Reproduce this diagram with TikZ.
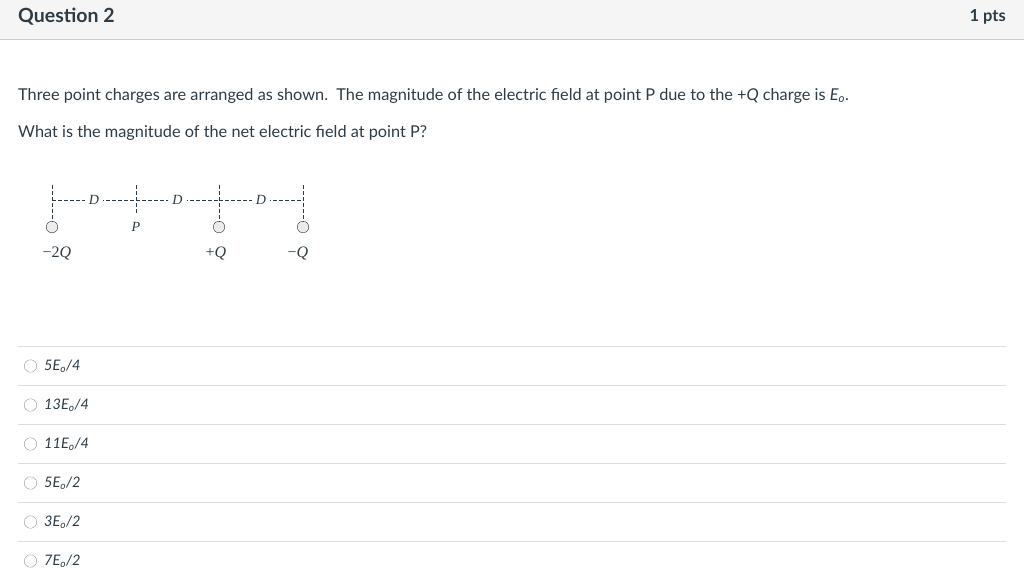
\documentclass[tikz,border=0pt]{standalone}
\usepackage{fontspec}
\setmainfont{Lato}
\newfontfamily\lblfont{Liberation Serif}
\definecolor{ink}{HTML}{2D3B45}
\definecolor{headbg}{HTML}{F5F5F5}
\definecolor{rulegray}{HTML}{C7CDD1}
\definecolor{sepgray}{HTML}{DDDDDD}
\tikzset{
  guide/.style={draw=ink, thin, dash pattern=on 3.5pt off 2.5pt},
  charge/.style={circle, draw=ink, fill=gray!15, minimum size=11.5pt, inner sep=0pt},
  lbl/.style={font=\lblfont\fontsize{16}{18}\selectfont, text=ink, inner sep=1pt},
  dlbl/.style={font=\lblfont\fontsize{14}{16}\selectfont\itshape, text=ink, fill=white, inner xsep=4pt, inner ysep=1pt},
  radio/.style={circle, draw=gray!80, minimum size=12.5pt, inner sep=0pt},
  answer/.style={anchor=west, font=\fontsize{14.5}{16}\selectfont\itshape, text=ink, inner sep=0pt}
}
\begin{document}
\begin{tikzpicture}[x=1pt,y=-1pt]
\useasboundingbox (0,0) rectangle (1024,584);

% header
\fill[headbg] (0,0) rectangle (1024,39);
\draw[rulegray] (0,39.5) -- (1024,39.5);
\node[anchor=west, text=ink, inner sep=0pt] (title) at (18,17) {\fontsize{19.5}{21}\selectfont\bfseries Question 2};
\node[anchor=east, text=ink, inner sep=0pt] (pts) at (1006,17) {\fontsize{16.5}{18}\selectfont\bfseries 1 pts};

% question text
\node[anchor=base west, text=ink, inner sep=0pt] (q1) at (18,100) {\fontsize{16.3}{18}\selectfont Three point charges are arranged as shown.\ \ The magnitude of the electric field at point P due to the +\textit{Q} charge is \textit{E}\textsubscript{\textit{o}}.};
\node[anchor=base west, text=ink, inner sep=0pt] (q2) at (18,137) {\fontsize{16.3}{18}\selectfont What is the magnitude of the net electric field at point P?};

% diagram
\coordinate (top1) at (52,185);
\coordinate (top2) at (136,185);
\coordinate (top3) at (219,185);
\coordinate (top4) at (303,185);
\coordinate (h1) at (52,200);
\coordinate (h2) at (136,200);
\coordinate (h3) at (219,200);
\coordinate (h4) at (303,200);
\coordinate (bot2) at (136,215);

\node[charge] (c1) at (52,227) {};
\node[charge] (c3) at (219,227) {};
\node[charge] (c4) at (303,227) {};

\draw[guide] (top1) -- (c1.north);
\draw[guide] (top2) -- (bot2);
\draw[guide] (top3) -- (c3.north);
\draw[guide] (top4) -- (c4.north);

\draw[guide] (h1) -- node[dlbl] (d1) {D} (h2);
\draw[guide] (h2) -- node[dlbl] (d2) {D} (h3);
\draw[guide] (h3) -- node[dlbl] (d3) {D} (h4);

\node[dlbl] (p) at (136,227) {P};
\node[lbl] (n1) at (57,253) {−2\textit{Q}};
\node[lbl] (n3) at (216,253) {+\textit{Q}};
\node[lbl] (n4) at (298,253) {−\textit{Q}};

% answers
\draw[sepgray] (18,346.5) -- (1006,346.5);
\draw[sepgray] (18,385.5) -- (1006,385.5);
\draw[sepgray] (18,424.5) -- (1006,424.5);
\draw[sepgray] (18,463.5) -- (1006,463.5);
\draw[sepgray] (18,502.5) -- (1006,502.5);
\draw[sepgray] (18,541.5) -- (1006,541.5);

\node[radio] (r1) at (30.5,366) {};
\node[radio] (r2) at (30.5,405) {};
\node[radio] (r3) at (30.5,444) {};
\node[radio] (r4) at (30.5,483) {};
\node[radio] (r5) at (30.5,522) {};
\node[radio] (r6) at (30.5,561) {};

\node[answer] (a1) at (44,366) {5\textit{E}\textsubscript{\textit{o}}/4};
\node[answer] (a2) at (44,405) {13\textit{E}\textsubscript{\textit{o}}/4};
\node[answer] (a3) at (44,444) {11\textit{E}\textsubscript{\textit{o}}/4};
\node[answer] (a4) at (44,483) {5\textit{E}\textsubscript{\textit{o}}/2};
\node[answer] (a5) at (44,522) {3\textit{E}\textsubscript{\textit{o}}/2};
\node[answer] (a6) at (44,561) {7\textit{E}\textsubscript{\textit{o}}/2};

\end{tikzpicture}
\end{document}
